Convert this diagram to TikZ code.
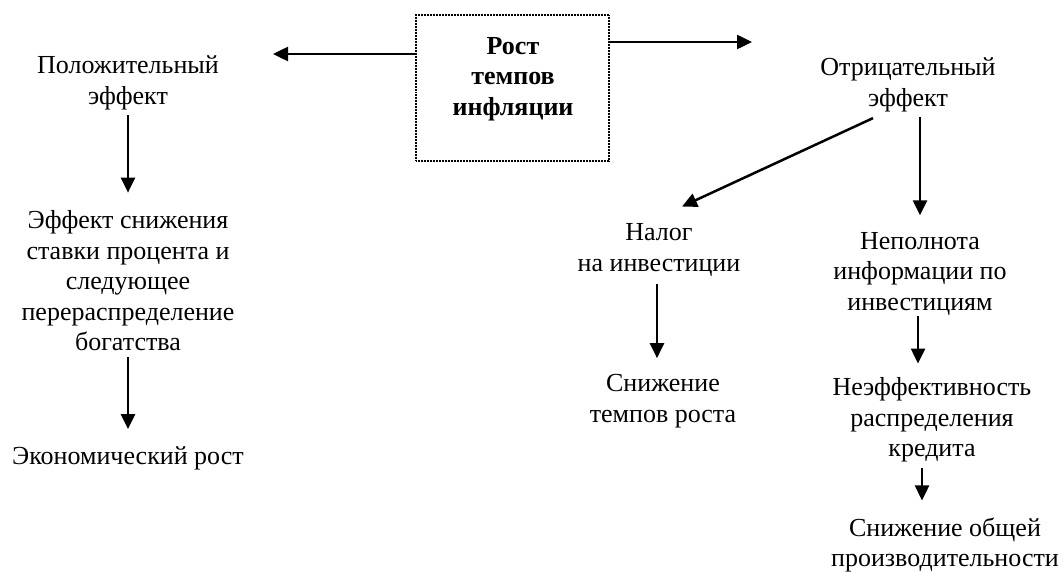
\documentclass[tikz,border=0pt]{standalone}
\usepackage{fontspec}
\setmainfont{Liberation Serif}
\usetikzlibrary{arrows.meta}
\begin{document}
\begin{tikzpicture}[x=1pt,y=-1pt,
  txt/.style={inner sep=0pt, align=center, font=\fontsize{26}{30.5}\selectfont},
  btxt/.style={inner sep=0pt, align=center, font=\fontsize{26}{30.5}\selectfont\bfseries},
  frame/.style={draw, line width=1.2pt, dash pattern=on 1pt off 0.5pt, minimum width=193pt, minimum height=146pt, inner sep=0pt},
  arr/.style={line width=2.5pt, -{Triangle[length=15pt,width=14pt]}}]
\useasboundingbox (0,0) rectangle (1063,572);
\node[frame] (box) at (512.5,88) {};
\node[btxt] (boxtext) at (513,79) {Рост\\темпов\\инфляции};
\node[txt] (pos) at (128,83) {Положительный\\эффект};
\node[txt] (neg) at (908,85) {Отрицательный\\эффект};
\node[txt] (eff1) at (128,281) {Эффект снижения\\ставки процента и\\следующее\\перераспределение\\богатства};
\node[txt] (econ) at (128,458) {Экономический рост};
\node[txt] (tax) at (659,250) {Налог\\на инвестиции};
\node[txt] (decl) at (663,401) {Снижение\\темпов роста};
\node[txt] (incomp) at (920,274) {Неполнота\\информации по\\инвестициям};
\node[txt] (ineff) at (932,420) {Неэффективность\\распределения\\кредита};
\node[txt] (prod) at (945,545) {Снижение общей\\производительности};
\coordinate (lend) at (273,54);
\coordinate (rend) at (752,42);
\draw[arr] (box.west |- lend) -- (lend);
\draw[arr] (box.east |- rend) -- (rend);
\draw[arr] ([yshift=-5pt]pos.south) -- ([yshift=18pt]eff1.north);
\draw[arr] ([yshift=-6pt]eff1.south) -- ([yshift=17pt]econ.north);
\draw[arr] ([xshift=-35pt,yshift=-6pt]neg.south) -- ([xshift=23pt,yshift=17pt]tax.north);
\draw[arr] ([xshift=12pt,yshift=-5pt]neg.south) -- ([yshift=17pt]incomp.north);
\draw[arr] ([xshift=-2pt,yshift=-8pt]tax.south) -- ([xshift=-6pt,yshift=16pt]decl.north);
\draw[arr] ([xshift=-2pt,yshift=0pt]incomp.south) -- ([xshift=-14pt,yshift=14pt]ineff.north);
\draw[arr] ([xshift=-10pt,yshift=-6pt]ineff.south) -- ([xshift=-23pt,yshift=17pt]prod.north);
\end{tikzpicture}
\end{document}
